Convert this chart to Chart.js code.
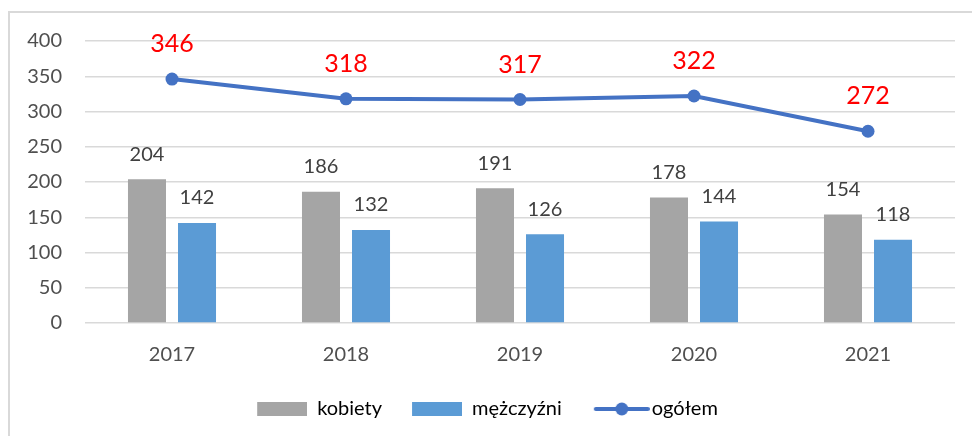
<!DOCTYPE html>
<html>
<head>
<meta charset="utf-8">
<script src="https://cdn.jsdelivr.net/npm/chart.js@4"></script>
<style>
    html, body { margin: 0; padding: 0; background: #fff; overflow: hidden; }
    .frame { position: absolute; left: 8px; top: 11px; width: 1100px; height: 600px; border: 2px solid #d9d9d9; }
    canvas { position: absolute; left: 0; top: 0; }
</style>
</head>
<body>
<div class="frame"></div>
<canvas id="chart" width="972" height="436"></canvas>
<script>
const years = ['2017', '2018', '2019', '2020', '2021'];
const women = [204, 186, 191, 178, 154];
const men = [142, 132, 126, 144, 118];
const total = [346, 318, 317, 322, 272];
const yTicks = [0, 50, 100, 150, 200, 250, 300, 350, 400];

const FONT = 'Lato, "Open Sans", sans-serif';
const GRAY = '#a5a5a5';
const BLUE = '#5b9bd5';
const LINE = '#4472c4';
const TEXT = '#4f4f4f';

// legend swatches, drawn on small canvases so the line item can show its marker
function swatch(kind, color) {
    const c = document.createElement('canvas');
    c.width = kind === 'line' ? 86 : 70;
    c.height = 16;
    const g = c.getContext('2d');
    if (kind === 'line') {
        g.strokeStyle = color;
        g.lineWidth = 4;
        g.lineCap = 'round';
        g.beginPath();
        g.moveTo(32, 8);
        g.lineTo(84, 8);
        g.stroke();
        g.fillStyle = color;
        g.beginPath();
        g.arc(58, 8, 6.5, 0, Math.PI * 2);
        g.fill();
    } else {
        g.fillStyle = color;
        g.fillRect(20, 1, 50, 14);
    }
    return c;
}

const valueLabels = {
    id: 'valueLabels',
    afterDatasetsDraw(chart) {
        const ctx = chart.ctx;
        ctx.save();
        ctx.textAlign = 'center';
        ctx.textBaseline = 'middle';
        chart.data.datasets.forEach((ds, i) => {
            const meta = chart.getDatasetMeta(i);
            meta.data.forEach((el, j) => {
                if (ds.type === 'line') {
                    ctx.font = '25px ' + FONT;
                    ctx.fillStyle = '#ff0000';
                    ctx.fillText(ds.data[j], el.x, el.y - 35);
                } else {
                    ctx.font = '20px ' + FONT;
                    ctx.fillStyle = '#404040';
                    ctx.fillText(ds.data[j], el.x, el.y - 25);
                }
            });
        });
        ctx.restore();
    }
};

new Chart(document.getElementById('chart'), {
    data: {
        labels: years,
        datasets: [
            {
                type: 'line',
                label: 'ogółem',
                data: total,
                borderColor: LINE,
                backgroundColor: LINE,
                borderWidth: 4,
                pointRadius: 6.5,
                pointBackgroundColor: LINE,
                pointBorderWidth: 0,
                order: 0
            },
            {
                type: 'bar',
                label: 'kobiety',
                data: women,
                backgroundColor: GRAY,
                categoryPercentage: 0.575,
                barPercentage: 0.76,
                order: 1
            },
            {
                type: 'bar',
                label: 'mężczyźni',
                data: men,
                backgroundColor: BLUE,
                categoryPercentage: 0.575,
                barPercentage: 0.76,
                order: 1
            }
        ]
    },
    options: {
        responsive: false,
        animation: false,
        layout: { padding: { top: 41, right: 17, left: 0, bottom: 7 } },
        plugins: {
            tooltip: { enabled: false },
            legend: {
                position: 'bottom',
                labels: {
                    usePointStyle: true,
                    pointStyleWidth: 70,
                    padding: 10,
                    color: TEXT,
                    font: { family: FONT, size: 20 },
                    generateLabels: () => [
                        { text: 'kobiety', pointStyle: swatch('rect', GRAY), fillStyle: GRAY, lineWidth: 0, datasetIndex: 1, hidden: false },
                        { text: 'mężczyźni', pointStyle: swatch('rect', BLUE), fillStyle: BLUE, lineWidth: 0, datasetIndex: 2, hidden: false },
                        { text: 'ogółem', pointStyle: swatch('line', LINE), fillStyle: LINE, lineWidth: 0, datasetIndex: 0, hidden: false }
                    ]
                }
            }
        },
        scales: {
            x: {
                grid: { display: false },
                border: { display: false },
                ticks: { color: TEXT, padding: 12, font: { family: FONT, size: 20 } },
                afterFit: (s) => { s.height = 66; }
            },
            y: {
                min: 0,
                max: 400,
                afterBuildTicks: (s) => { s.ticks = yTicks.map(v => ({ value: v })); },
                grid: { color: '#d9d9d9', lineWidth: 1.5, drawTicks: false },
                border: { display: false },
                ticks: { color: TEXT, padding: 23, font: { family: FONT, size: 20 } },
                afterFit: (s) => { s.width = 85; }
            }
        }
    },
    plugins: [valueLabels]
});
</script>
</body>
</html>
